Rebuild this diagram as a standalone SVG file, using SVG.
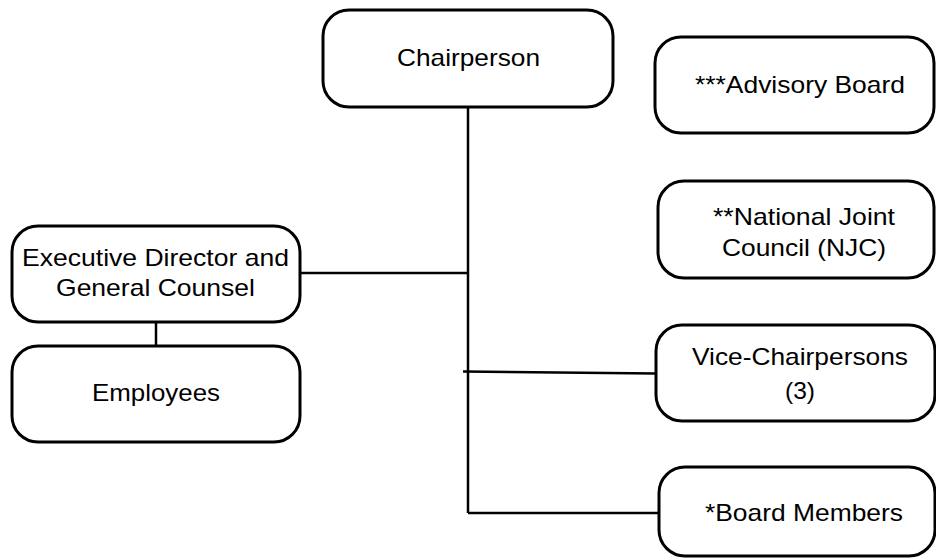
<svg xmlns="http://www.w3.org/2000/svg" width="936" height="560" viewBox="0 0 936 560">
<style>
.box{fill:#fff;stroke:#000;stroke-width:3}
.ln{fill:none;stroke:#000;stroke-width:2.5}
text{font-family:"Liberation Sans",Arial,sans-serif;font-size:24px;fill:#000}
</style>
<rect width="936" height="560" fill="#fff"/>
<g id="connectors">
<line class="ln" x1="468" y1="107" x2="468" y2="513"/>
<line class="ln" x1="300" y1="273" x2="468" y2="273"/>
<line class="ln" x1="156" y1="322" x2="156" y2="346"/>
<line class="ln" x1="463" y1="371.5" x2="656" y2="373.5"/>
<polyline class="ln" points="468,513 659,513"/>
</g>
<g id="chairperson">
<rect class="box" x="323" y="10" width="290" height="97" rx="26"/>
<text x="397" y="66" textLength="143" lengthAdjust="spacingAndGlyphs">Chairperson</text>
</g>
<g id="advisory-board">
<rect class="box" x="655" y="37" width="279" height="96" rx="26"/>
<text x="695" y="93" textLength="210" lengthAdjust="spacingAndGlyphs">***Advisory Board</text>
</g>
<g id="njc">
<rect class="box" x="658" y="181" width="276" height="97" rx="26"/>
<text x="713" y="225" textLength="182" lengthAdjust="spacingAndGlyphs">**National Joint</text>
<text x="722" y="256" textLength="164" lengthAdjust="spacingAndGlyphs">Council (NJC)</text>
</g>
<g id="executive-director">
<rect class="box" x="12" y="226" width="288" height="96" rx="26"/>
<text x="22" y="266" textLength="267" lengthAdjust="spacingAndGlyphs">Executive Director and</text>
<text x="56" y="296" textLength="199" lengthAdjust="spacingAndGlyphs">General Counsel</text>
</g>
<g id="employees">
<rect class="box" x="12" y="346" width="288" height="96" rx="26"/>
<text x="92" y="401" textLength="128" lengthAdjust="spacingAndGlyphs">Employees</text>
</g>
<g id="vice-chairpersons">
<rect class="box" x="656" y="325" width="279" height="96" rx="26"/>
<text x="692" y="365" textLength="216" lengthAdjust="spacingAndGlyphs">Vice-Chairpersons</text>
<text x="785" y="399" textLength="30" lengthAdjust="spacingAndGlyphs">(3)</text>
</g>
<g id="board-members">
<rect class="box" x="659" y="467" width="276" height="89" rx="26"/>
<text x="705" y="521" textLength="198" lengthAdjust="spacingAndGlyphs">*Board Members</text>
</g>
</svg>
